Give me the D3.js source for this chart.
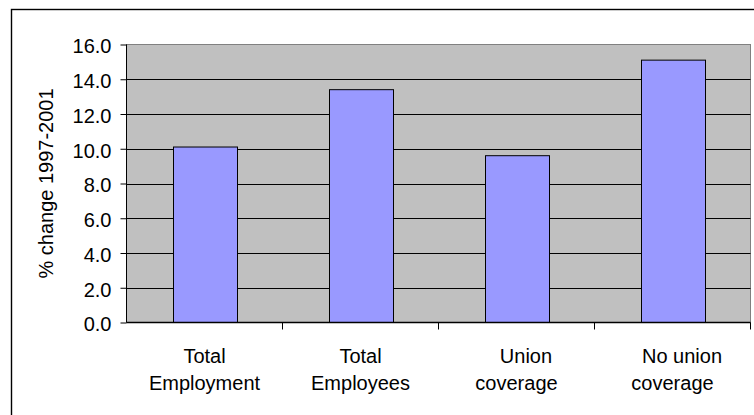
<!DOCTYPE html>
<html>
<head>
<meta charset="utf-8">
<script src="https://cdn.jsdelivr.net/npm/d3@7/dist/d3.min.js"></script>
<style>
  html, body { margin: 0; padding: 0; background: #fff; }
  svg { display: block; font-family: "Liberation Sans", Arial, sans-serif; }
</style>
</head>
<body>
<svg id="chart" width="754" height="415"></svg>
<script>
// Percentage change in employment, 1997-2001
const categories = ["Total Employment", "Total Employees", "Union coverage", "No union coverage"];
const values = [10.1, 13.4, 9.6, 15.1];
const yTicks = [0, 2, 4, 6, 8, 10, 12, 14, 16];
const yTitle = "% change 1997-2001";

const svg = d3.select("#chart");
const W = 754, H = 415;
const plot = { left: 126.5, right: 750.5, top: 44.5, bottom: 322.5 };

svg.append("rect").attr("width", W).attr("height", H).attr("fill", "#fff");

// chart frame (runs past the right and bottom edges)
svg.append("rect")
  .attr("x", 11.5).attr("y", 9.5)
  .attr("width", 780).attr("height", 440)
  .attr("fill", "none").attr("stroke", "#000").attr("stroke-width", 1.4);

const x = d3.scaleBand()
  .domain(categories)
  .range([plot.left, plot.right])
  .paddingInner(0.59)
  .paddingOuter(0.295);

const y = d3.scaleLinear()
  .domain([0, 16])
  .range([plot.bottom, plot.top]);

// plot area background
svg.append("rect")
  .attr("x", plot.left).attr("y", plot.top)
  .attr("width", plot.right - plot.left).attr("height", plot.bottom - plot.top)
  .attr("fill", "#C0C0C0").attr("stroke", "#808080").attr("stroke-width", 1);

// horizontal gridlines
svg.append("g")
  .selectAll("line")
  .data(yTicks.filter(t => t > 0 && t < 16))
  .join("line")
  .attr("x1", plot.left).attr("x2", plot.right)
  .attr("y1", d => Math.round(y(d)) + 0.5).attr("y2", d => Math.round(y(d)) + 0.5)
  .attr("stroke", "#000").attr("stroke-width", 1);

// bars
svg.append("g")
  .selectAll("rect")
  .data(values)
  .join("rect")
  .attr("x", (d, i) => Math.round(x(categories[i])) + 0.5)
  .attr("y", d => y(d))
  .attr("width", Math.round(x.bandwidth()))
  .attr("height", d => y(0) - y(d))
  .attr("fill", "#9999FF")
  .attr("stroke", "#000").attr("stroke-width", 1);

// y axis
const yAxis = d3.axisLeft(y)
  .tickValues(yTicks)
  .tickFormat(d3.format(".1f"))
  .tickSize(6)
  .tickPadding(9);
const gy = svg.append("g")
  .attr("transform", `translate(${plot.left},0)`)
  .call(yAxis);
gy.select(".domain").attr("stroke", "#000").attr("d", `M0,${plot.top}V${plot.bottom}`);
gy.selectAll(".tick line").attr("stroke", "#000");
gy.selectAll(".tick text")
  .attr("fill", "#000")
  .attr("font-size", 20)
  .attr("font-family", "Liberation Sans, Arial, sans-serif")
  .attr("dy", "0.42em");

// x axis: ticks sit between categories
const step = x.step();
const gx = svg.append("g")
  .attr("transform", `translate(0,${plot.bottom})`);
gx.append("line")
  .attr("x1", plot.left).attr("x2", plot.right)
  .attr("stroke", "#000").attr("stroke-width", 1.3);
gx.selectAll("line.tick")
  .data(categories)
  .join("line")
  .attr("class", "tick")
  .attr("x1", d => x(d) - x.paddingOuter() * step + step)
  .attr("x2", d => x(d) - x.paddingOuter() * step + step)
  .attr("y1", 0).attr("y2", 7)
  .attr("stroke", "#000").attr("stroke-width", 1);

// category labels, wrapped onto two lines; the "union" labels keep the
// slight indent their first line has in the source sheet
function wrapLines(label) {
  const words = label.split(" ");
  if (words.length <= 2) return [words[0], words.slice(1).join(" ")];
  return [words.slice(0, words.length - 1).join(" "), words[words.length - 1]];
}
const indentFirstLine = d => /union/i.test(d) ? 9.5 : 0;
const labels = svg.append("g")
  .selectAll("text")
  .data(categories)
  .join("text")
  .attr("text-anchor", "middle")
  .attr("font-size", 20)
  .attr("fill", "#000");
labels.each(function (d) {
  const cx = x(d) + x.bandwidth() / 2;
  d3.select(this).selectAll("tspan")
    .data(wrapLines(d))
    .join("tspan")
    .attr("x", (t, i) => cx + (i === 0 ? indentFirstLine(d) : 0))
    .attr("y", (t, i) => 362.5 + i * 27.5)
    .text(t => t);
});

// y axis title
svg.append("text")
  .attr("transform", `translate(53,${(plot.top + plot.bottom) / 2}) rotate(-90)`)
  .attr("text-anchor", "middle")
  .attr("font-size", 20)
  .attr("fill", "#000")
  .text(yTitle);
</script>
</body>
</html>
